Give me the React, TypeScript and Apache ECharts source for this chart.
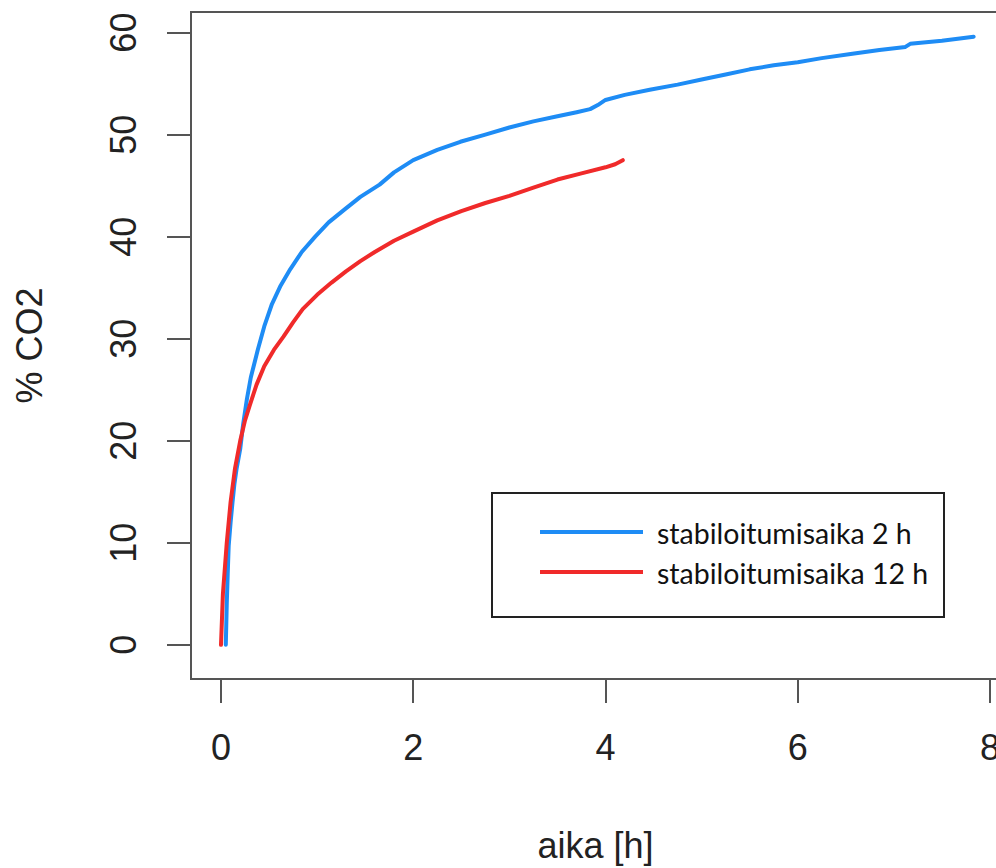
import React, { useEffect, useRef } from "react";
import * as echarts from "echarts";

// Series: stabiloitumisaika 2 h (blue)
const blueX = [0.05, 0.055, 0.06, 0.07, 0.08, 0.1, 0.12, 0.14, 0.163, 0.2, 0.23, 0.27, 0.31, 0.385, 0.45, 0.53, 0.62, 0.72, 0.84, 0.98, 1.12, 1.29, 1.45, 1.65, 1.8, 2.0, 2.25, 2.49, 2.75, 3.0, 3.25, 3.5, 3.7, 3.84, 3.92, 4.0, 4.2, 4.46, 4.75, 5.0, 5.25, 5.5, 5.75, 6.0, 6.25, 6.55, 6.85, 7.12, 7.17, 7.5, 7.83];
const blueY = [0, 2, 4, 7, 9.7, 12, 14, 15.8, 17.3, 19.2, 21.6, 24.1, 26.2, 29, 31.2, 33.4, 35.2, 36.8, 38.5, 40, 41.4, 42.7, 43.9, 45.1, 46.3, 47.5, 48.5, 49.3, 50.0, 50.7, 51.3, 51.8, 52.2, 52.5, 52.9, 53.4, 53.9, 54.4, 54.9, 55.4, 55.9, 56.4, 56.8, 57.1, 57.5, 57.9, 58.3, 58.6, 58.9, 59.2, 59.6];

// Series: stabiloitumisaika 12 h (red)
const redX = [0, 0.02, 0.06, 0.1, 0.146, 0.2, 0.25, 0.3, 0.37, 0.45, 0.55, 0.65, 0.75, 0.85, 1.0, 1.15, 1.3, 1.45, 1.6, 1.8, 2.0, 2.25, 2.5, 2.75, 3.0, 3.25, 3.5, 3.75, 4.0, 4.1, 4.18];
const redY = [0, 5, 10, 14, 17.3, 20, 22, 23.5, 25.5, 27.3, 28.9, 30.2, 31.6, 32.9, 34.3, 35.5, 36.6, 37.6, 38.5, 39.6, 40.5, 41.6, 42.5, 43.3, 44.0, 44.8, 45.6, 46.2, 46.8, 47.1, 47.5];

const xTicks = [0, 2, 4, 6, 8];
const yTicks = [0, 10, 20, 30, 40, 50, 60];

const seriesNames = ["stabiloitumisaika 2 h", "stabiloitumisaika 12 h"];
const seriesColors = ["#1E8CF5", "#F02A2A"];

const xTitle = "aika [h]";
const yTitle = "% CO2";

export default function App() {
  const ref = useRef<HTMLDivElement>(null);
  useEffect(() => {
    if (!ref.current) return;
    const chart = echarts.init(ref.current, undefined, { renderer: "svg" });
    const pair = (xs: number[], ys: number[]) => xs.map((x, i) => [x, ys[i]]);
    const axisFont = {
      fontFamily: "Liberation Sans, Arial, sans-serif",
      fontSize: 36,
      color: "#222",
    };
    const tickStyle = { lineStyle: { color: "#555", width: 2 } };
    const lineSeries = (i: number, xs: number[], ys: number[]) => ({
      name: seriesNames[i],
      type: "line",
      data: pair(xs, ys),
      showSymbol: false,
      smooth: false,
      lineStyle: { color: seriesColors[i], width: 4, cap: "round", join: "round" },
      itemStyle: { color: seriesColors[i] },
      z: 3 + i,
    });
    chart.setOption({
      animation: false,
      backgroundColor: "#fff",
      grid: {
        left: 191,
        top: 12,
        width: 809,
        height: 669,
        show: true,
        borderColor: "#555",
        borderWidth: 2,
        backgroundColor: "transparent",
      },
      xAxis: {
        type: "value",
        min: -0.312,
        max: 8.104,
        splitLine: { show: false },
        axisLine: { show: false, onZero: false },
        axisTick: { show: true, length: 24, customValues: xTicks, ...tickStyle },
        axisLabel: { ...axisFont, margin: 50, customValues: xTicks, formatter: (v: number) => String(v) },
        name: xTitle,
        nameLocation: "middle",
        nameGap: 148,
        nameTextStyle: { ...axisFont },
      },
      yAxis: {
        type: "value",
        min: -3.35,
        max: 62.02,
        splitLine: { show: false },
        axisLine: { show: false, onZero: false },
        axisTick: { show: true, length: 24, customValues: yTicks, ...tickStyle },
        axisLabel: { ...axisFont, margin: 50, rotate: 90, customValues: yTicks, formatter: (v: number) => String(v) },
        name: yTitle,
        nameLocation: "middle",
        nameRotate: 90,
        nameGap: 144,
        nameTextStyle: { ...axisFont },
      },
      series: [lineSeries(0, blueX, blueY), lineSeries(1, redX, redY)],
      graphic: [
        {
          type: "rect",
          shape: { x: 492, y: 493, width: 452, height: 124 },
          style: { fill: "#fff", stroke: "#222", lineWidth: 2 },
          z: 10,
        },
        {
          type: "line",
          shape: { x1: 540, y1: 532, x2: 643, y2: 532 },
          style: { stroke: seriesColors[0], lineWidth: 4 },
          z: 11,
        },
        {
          type: "line",
          shape: { x1: 540, y1: 572, x2: 643, y2: 572 },
          style: { stroke: seriesColors[1], lineWidth: 4 },
          z: 11,
        },
        {
          type: "text",
          x: 657,
          y: 533,
          style: {
            text: seriesNames[0],
            fontFamily: "Lato, sans-serif",
            fontSize: 28.5,
            fill: "#111",
            verticalAlign: "middle",
          },
          z: 11,
        },
        {
          type: "text",
          x: 657,
          y: 573,
          style: {
            text: seriesNames[1],
            fontFamily: "Lato, sans-serif",
            fontSize: 28.5,
            fill: "#111",
            verticalAlign: "middle",
          },
          z: 11,
        },
      ],
    });
    return () => chart.dispose();
  }, []);
  return (
    <div
      ref={ref}
      style={{ position: "fixed", left: 0, top: 0, width: 1010, height: 868 }}
    />
  );
}
